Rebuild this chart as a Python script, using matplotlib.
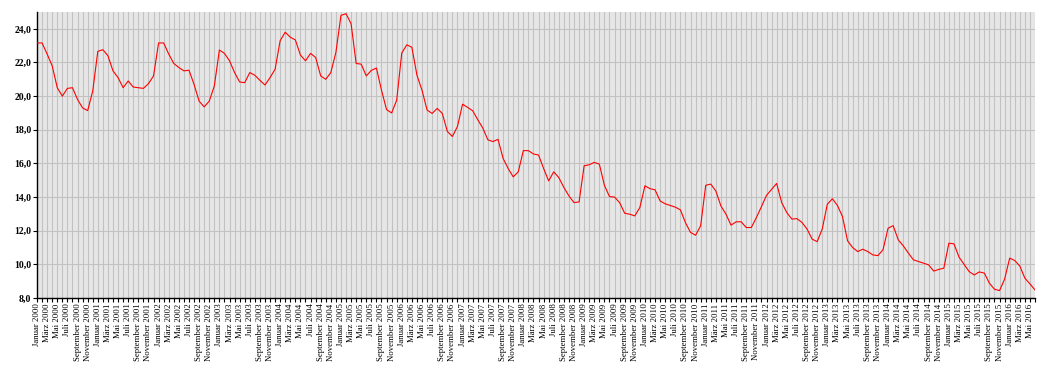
import matplotlib
matplotlib.use("Agg")
import matplotlib.pyplot as plt
from matplotlib.ticker import FuncFormatter

# monatliche Werte Januar 2000 - Juni 2016
werte = [
    23.16, 23.16, 22.5, 21.8, 20.5, 20.0, 20.46, 20.5, 19.8, 19.3, 19.14, 20.3,   # 2000
    22.66, 22.76, 22.4, 21.5, 21.1, 20.5, 20.9, 20.54, 20.5, 20.46, 20.74, 21.2,  # 2001
    23.16, 23.16, 22.5, 21.94, 21.7, 21.5, 21.54, 20.7, 19.7, 19.36, 19.7, 20.6,  # 2002
    22.74, 22.54, 22.1, 21.4, 20.84, 20.8, 21.4, 21.24, 20.94, 20.66, 21.1, 21.6, # 2003
    23.3, 23.8, 23.5, 23.34, 22.44, 22.1, 22.54, 22.3, 21.2, 21.0, 21.4, 22.6,    # 2004
    24.8, 24.9, 24.3, 21.94, 21.9, 21.2, 21.53, 21.67, 20.35, 19.2, 19.0, 19.76,  # 2005
    22.56, 23.05, 22.9, 21.24, 20.35, 19.17, 18.97, 19.27, 18.97, 17.9, 17.6, 18.2,  # 2006
    19.52, 19.33, 19.13, 18.6, 18.1, 17.4, 17.3, 17.43, 16.3, 15.7, 15.2, 15.5,   # 2007
    16.76, 16.76, 16.56, 16.5, 15.7, 14.96, 15.5, 15.16, 14.57, 14.07, 13.67, 13.71,  # 2008
    15.86, 15.92, 16.06, 15.96, 14.7, 14.03, 14.0, 13.67, 13.04, 12.98, 12.88, 13.38,  # 2009
    14.67, 14.5, 14.43, 13.77, 13.6, 13.5, 13.4, 13.24, 12.48, 11.9, 11.73, 12.29,    # 2010
    14.7, 14.77, 14.36, 13.47, 12.98, 12.33, 12.53, 12.53, 12.19, 12.19, 12.78, 13.43,  # 2011
    14.1, 14.46, 14.81, 13.67, 13.08, 12.69, 12.72, 12.49, 12.1, 11.5, 11.35, 12.1,     # 2012
    13.57, 13.9, 13.5, 12.84, 11.4, 11.0, 10.76, 10.9, 10.76, 10.56, 10.52, 10.87,      # 2013
    12.15, 12.3, 11.46, 11.1, 10.67, 10.27, 10.17, 10.07, 9.97, 9.6, 9.7, 9.77,         # 2014
    11.26, 11.22, 10.43, 10.0, 9.57, 9.37, 9.55, 9.48, 8.88, 8.52, 8.44, 9.12,          # 2015
    10.37, 10.23, 9.9, 9.18, 8.84, 8.48,                                                # 2016
]

monate = ["Januar", "Februar", "März", "April", "Mai", "Juni", "Juli",
          "August", "September", "Oktober", "November", "Dezember"]
start_jahr = 2000

x = list(range(len(werte)))
beschriftung = [f"{monate[i % 12]} {start_jahr + i // 12}" for i in x]

fig = plt.figure(figsize=(10.49, 3.76), dpi=100)
ax = fig.add_axes([37 / 1049, 1 - 298 / 376, (1035 - 37) / 1049, (298 - 12) / 376])
ax.set_facecolor("#e6e6e6")

ax.plot(x, werte, color="#ff0000", linewidth=0.8, zorder=3)

ax.set_xlim(0, len(werte) - 1)
ax.set_ylim(8, 25)

# jeder Monat ein Tick, jeder zweite beschriftet
ax.set_xticks(x)
ax.set_xticklabels([b if i % 2 == 0 else "" for i, b in enumerate(beschriftung)],
                   rotation=90, fontsize=6.3, family="Liberation Serif")
ax.set_yticks(range(8, 25, 2))
ax.yaxis.set_major_formatter(FuncFormatter(lambda v, p: f"{v:.1f}".replace(".", ",")))
for t in ax.get_yticklabels():
    t.set_fontsize(7)
    t.set_family("Liberation Serif")
    t.set_fontweight("bold")

ax.tick_params(axis="x", length=3, width=0.8, pad=1, color="black")
ax.tick_params(axis="y", length=3, width=0.8, pad=1, color="black")

ax.grid(True, axis="both", color="#c2c2c2", linewidth=0.8, zorder=1)
ax.set_axisbelow(True)

for s in ["top", "right"]:
    ax.spines[s].set_visible(False)
ax.spines["left"].set_linewidth(1.0)
ax.spines["bottom"].set_linewidth(1.0)

fig.savefig("out.png", dpi=100)
